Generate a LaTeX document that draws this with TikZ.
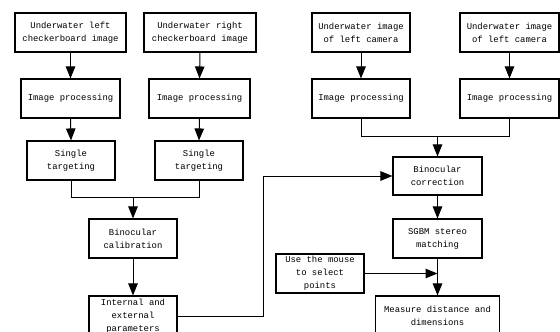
\documentclass[tikz,border=0pt]{standalone}
\usepackage{fontspec}
\setmainfont{Liberation Mono}
\usetikzlibrary{arrows.meta}
\begin{document}
\begin{tikzpicture}[x=1pt,y=1pt,
  box/.style={draw,line width=1.1pt,align=center,inner sep=0pt,minimum height=39pt,
    font=\fontsize{8.9}{13}\selectfont},
  conn/.style={line width=1pt},
  arr/.style={conn,-{Triangle[length=12pt,width=9.5pt]}}]
\useasboundingbox (0,0) rectangle (560,-332);
\clip (0,0) rectangle (560,-332);
\fill[white] (0,0) rectangle (560,-332);
% top row
\node[box,minimum width=111pt] (A1) at (70.5,-32.5) {Underwater left\\checkerboard image};
\node[box,minimum width=112pt] (A2) at (200,-32.5) {Underwater right\\checkerboard image};
\node[box,minimum width=98pt] (A3) at (361,-32.5) {Underwater image\\of left camera};
\node[box,minimum width=99pt] (A4) at (509.5,-32.5) {Underwater image\\of left camera};
% image processing
\node[box,minimum width=99pt] (B1) at (70.5,-98.5) {Image processing};
\node[box,minimum width=101pt] (B2) at (199.5,-98.5) {Image processing};
\node[box,minimum width=98pt] (B3) at (361,-98.5) {Image processing};
\node[box,minimum width=99pt] (B4) at (509.5,-98.5) {Image processing};
% single targeting
\node[box,minimum width=88pt] (C1) at (71,-160.5) {Single\\targeting};
\node[box,minimum width=88pt] (C2) at (199,-160.5) {Single\\targeting};
% calibration
\node[box,minimum width=88pt] (D) at (133,-238.5) {Binocular\\calibration};
\node[box,minimum width=88pt,minimum height=40pt] (E) at (133,-316) {Internal and\\external\\parameters};
% right column
\node[box,minimum width=89pt,minimum height=38pt] (F) at (437.5,-176) {Binocular\\correction};
\node[box,minimum width=89pt] (G) at (437.5,-238.5) {SGBM stereo\\matching};
\node[box,minimum width=88pt] (H) at (320,-273.5) {Use the mouse\\to select\\points};
\node[box,minimum width=124pt,minimum height=40pt] (I) at (437.5,-316) {Measure distance and\\dimensions};
% helper coordinates
\coordinate (m1) at (133,-197);
\coordinate (m2) at (437.5,-136);
\coordinate (k) at (263,-250);
% connectors
\draw[arr] (A1.south) -- (B1.north);
\draw[arr] (A2.south) -- (B2.north);
\draw[arr] (A3.south) -- (B3.north);
\draw[arr] (A4.south) -- (B4.north);
\draw[arr] (B1.south) -- (C1.north);
\draw[arr] (B2.south) -- (C2.north);
\draw[conn] (C1.south) |- (m1);
\draw[conn] (C2.south) |- (m1);
\draw[arr] (m1) -- (D.north);
\draw[arr] (D.south) -- (E.north);
\draw[conn] (B3.south) |- (m2);
\draw[conn] (B4.south) |- (m2);
\draw[arr] (m2) -- (F.north);
\draw[arr] (E.east) -- (E.east -| k) -- (k |- F.west) -- (F.west);
\draw[arr] (F.south) -- (G.north);
\draw[arr] (G.south) -- (G.south |- I.north);
\draw[arr] (H.east) -- (G.south |- H.east);
\end{tikzpicture}
\end{document}
